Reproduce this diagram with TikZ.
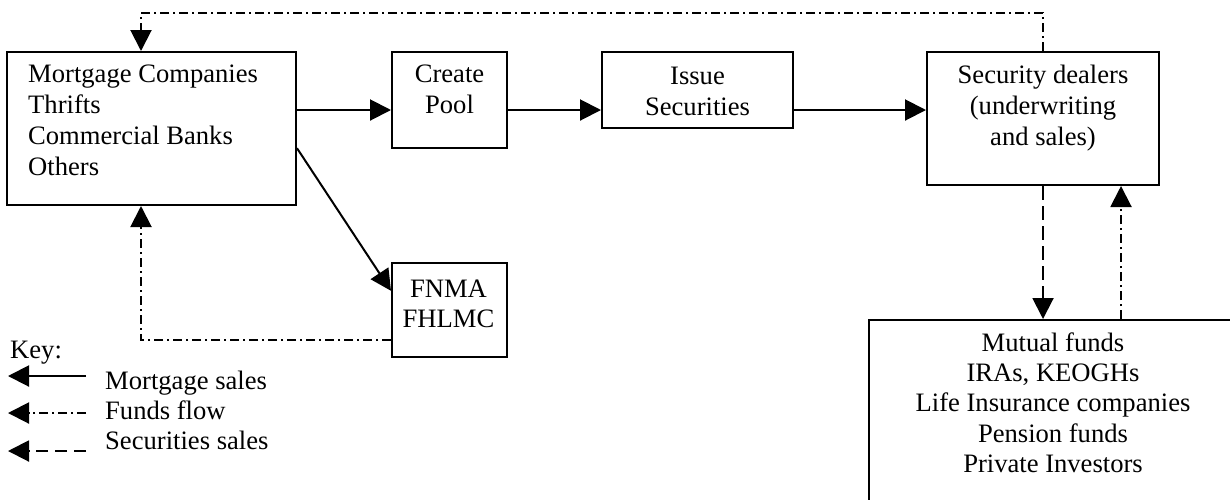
\documentclass[tikz,border=0pt]{standalone}
\usepackage{fontspec}
\setmainfont{Liberation Serif}
\usetikzlibrary{arrows.meta,calc}

\tikzset{
  box/.style={draw, line width=2pt, inner sep=0pt, minimum width=#1},
  txt/.style={inner sep=0pt, font=\fontsize{26.6pt}{31pt}\selectfont},
  txtb/.style={inner sep=0pt, font=\fontsize{26.6pt}{30.2pt}\selectfont},
  con/.style={line width=2pt},
  tip/.style={-{Triangle[length=21pt,width=21pt]}},
  sale/.style={con},
  funds/.style={con, dash pattern=on 9pt off 4pt on 2pt off 4pt},
  secs/.style={con, dash pattern=on 14pt off 6pt},
  keysecs/.style={con, dash pattern=on 12pt off 7pt},
}

\begin{document}
\begin{tikzpicture}[x=1pt, y=-1pt]
  \useasboundingbox (0,0) rectangle (1230,499);
  \fill[white] (0,0) rectangle (1230,499);
  \clip (0,0) rectangle (1230,499);

  % boxes
  \node[box=289pt, minimum height=153pt] (lb)  at (151.5,128.5) {};
  \node[box=115pt, minimum height=96pt]  (cp)  at (449.5,100) {};
  \node[box=191pt, minimum height=76pt]  (is)  at (697.5,90) {};
  \node[box=232pt, minimum height=133pt] (sd)  at (1043,118.5) {};
  \node[box=115pt, minimum height=94pt]  (fn)  at (449.5,310) {};
  \node[box=368pt, minimum height=200pt] (inv) at (1053,420) {};

  % box texts
  \node[txt, anchor=north west, align=left] (lbt) at (28,65)
    {Mortgage Companies\\Thrifts\\Commercial Banks\\Others};
  \node[txt, anchor=north, align=center] (cpt) at (449.5,65) {Create\\Pool};
  \node[txt, anchor=north, align=center] (ist) at (697.5,66.4) {Issue\\Securities};
  \node[txt, anchor=north, align=center] (sdt) at (1043,65)
    {Security dealers\\(underwriting\\and sales)};
  \node[txtb, anchor=north, align=center] (fnt) at (448.5,279.4) {FNMA\\FHLMC};
  \node[txtb, anchor=north, align=center] (invt) at (1053,332.5)
    {Mutual funds\\IRAs, KEOGHs\\Life Insurance companies\\Pension funds\\Private Investors};

  % mortgage sales along the top row
  \coordinate (flow) at (0,110);
  \draw[sale,tip] (lb.east |- flow) -- (cp.west |- flow);
  \draw[sale,tip] (cp.east |- flow) -- (is.west |- flow);
  \draw[sale,tip] (is.east |- flow) -- (sd.west |- flow);
  \draw[sale,tip] ($(lb.north east)!0.627!(lb.south east)$)
                -- ($(fn.north west)!0.30!(fn.south west)$);

  % funds returning to the originators
  \coordinate (ft) at ($(lb.north west)+(135,0)$);
  \coordinate (fb) at ($(lb.south west)+(135,0)$);
  \draw[funds,tip] (sd.north) -- ++(0,-38) -| (ft);
  \draw[funds,tip] ($(fn.north west)!0.81!(fn.south west)$) -| (fb);

  % dealers and investors
  \coordinate (up) at ($(sd.south east)+(-39,0)$);
  \draw[secs,tip] (sd.south) -- (sd.south |- inv.north);
  \draw[funds,tip] (up |- inv.north) -- (up);

  % key
  \node[txt, anchor=base west] (key) at (10,358) {Key:};
  \coordinate (k1a) at (86,376);  \coordinate (k1b) at (8,376);
  \coordinate (k2a) at (86,413);  \coordinate (k2b) at (8,413);
  \coordinate (k3a) at (86,451);  \coordinate (k3b) at (8,451);
  \draw[sale,tip] (k1a) -- (k1b);
  \draw[funds,tip] (k2a) -- (k2b);
  \draw[keysecs,tip] (k3a) -- (k3b);
  \node[txt, anchor=base west] (k1) at (105,389) {Mortgage sales};
  \node[txt, anchor=base west] (k2) at (105,419) {Funds flow};
  \node[txt, anchor=base west] (k3) at (105,449) {Securities sales};
\end{tikzpicture}
\end{document}
